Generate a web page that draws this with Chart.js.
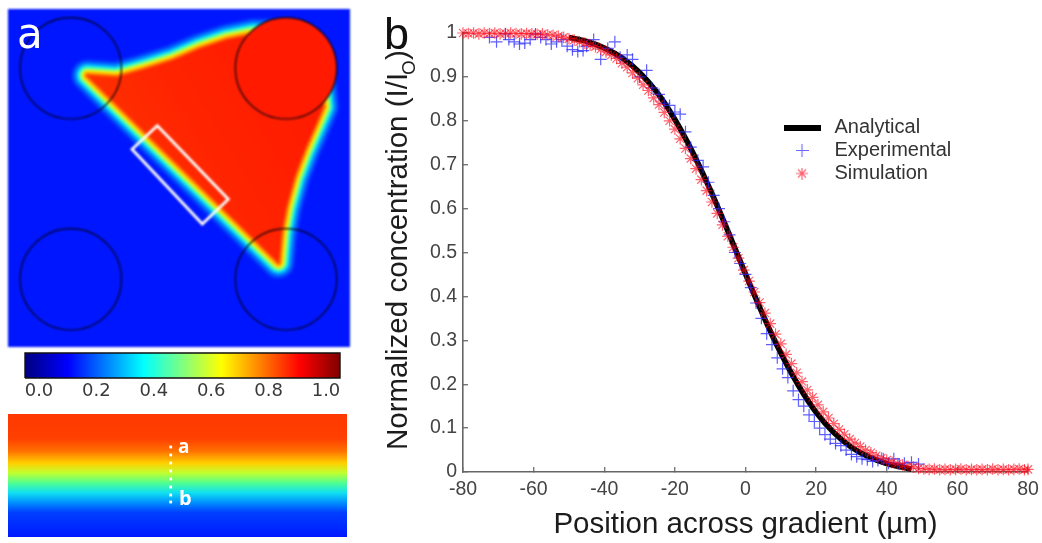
<!DOCTYPE html>
<html><head><meta charset="utf-8">
<script src="https://cdn.jsdelivr.net/npm/chart.js@4"></script>
<style>
html,body{margin:0;padding:0;background:#fff;overflow:hidden}
#page{position:relative;width:1042px;height:543px;filter:blur(.7px)}
canvas{position:absolute;display:block}
#mapChart{filter:blur(.8px)}
.t{position:absolute;white-space:nowrap;line-height:1}
</style></head><body>
<div id="page">
<canvas id="mapChart" width="342" height="338" style="left:8px;top:9px"></canvas>
<canvas id="barChart" width="360" height="62" style="left:0;top:345px"></canvas>
<canvas id="stripChart" width="339" height="123" style="left:8px;top:414px"></canvas>
<canvas id="curveChart" width="672" height="543" style="left:370px;top:0"></canvas>
<div class="t" style="left:17px;top:9px;font:42px 'DejaVu Sans';color:#fff">a</div>
<div class="t" style="left:384px;top:8px;font:45px 'Liberation Sans';color:#111">b</div>
<div class="t" style="left:178px;top:433px;font:bold 19px 'Open Sans';color:#fff">a</div>
<div class="t" style="left:179px;top:484px;font:bold 20px 'Open Sans';color:#fff">b</div>
<div class="t" id="ytitle" style="left:380px;top:450px;transform-origin:0 0;transform:rotate(-90deg);font:29.5px 'Liberation Sans';color:#1c1c1c">Normalized concentration (I/I<span style="font-size:19px;position:relative;top:8px;margin-left:-2px">O</span>)</div>
</div>
<script>
// ---------- panel b data ----------
const analyticalX = [-50,-45,-40,-35,-30,-25,-20,-15,-10,-5,0,5,10,15,20,25,30,35,40,45,47];
const analyticalY = [.990,.981,.966,.9435,.910,.864,.803,.729,.643,.549,.451,.357,.271,.197,.136,.090,.0565,.034,.019,.010,.006];
const experimentalX = [-72.5,-70.5,-68,-67,-65.5,-64,-62.5,-61,-59.5,-58,-56.5,-55,-53.5,-52,-50.5,-49,-47.5,-46,-45,-43,-41,-39,-37,-35.5,-33.5,-32,-30,-28,-26.5,-24.5,-23,-21.5,-20,-18.5,-17,-15.5,-13.5,-12,-10.5,-9,-7.5,-6,-4.5,-3,-1.5,0,1.5,3,4.5,6,7.5,9,10.5,12,13.5,15,16.5,18,19.5,21,22.5,24,25.5,27,28.5,30,31.5,33,34.5,36,37.5,39,40.5,42,43.5,45,47,49];
const experimentalY = [.99,.98,.998,.985,.98,.975,.977,.985,.998,.99,.985,.975,.98,.985,.97,.962,.958,.96,.97,.985,.94,.965,.98,.945,.95,.94,.9,.915,.875,.86,.84,.835,.82,.815,.775,.74,.71,.695,.66,.63,.6,.57,.54,.5,.475,.45,.42,.385,.35,.315,.29,.26,.235,.215,.185,.165,.15,.13,.115,.1,.085,.075,.065,.06,.05,.04,.035,.03,.028,.024,.026,.03,.02,.03,.018,.02,.022,.018];
const simulationX = [-80,-78.5,-77,-75.5,-74,-72.5,-71,-69.5,-68,-66.5,-65,-63.5,-62,-60.5,-59,-57.5,-56,-54.5,-53,-51.5,-50,-48.5,-47,-45.5,-44,-42.5,-41,-39.5,-38,-36.5,-35,-33.5,-32,-30.5,-29,-27.5,-26,-24.5,-23,-21.5,-20,-18.5,-17,-15.5,-14,-12.5,-11,-9.5,-8,-6.5,-5,-3.5,-2,-.5,1,2.5,4,5.5,7,8.5,10,11.5,13,14.5,16,17.5,19,20.5,22,23.5,25,26.5,28,29.5,31,32.5,34,35.5,37,38.5,40,41.5,43,44.5,46,47.5,49,50.5,52,53.5,55,56.5,58,59.5,61,62.5,64,65.5,67,68.5,70,71.5,73,74.5,76,77.5,79,80];
const simulationY = [1,.999,1,.998,1,.999,1,.998,.999,1,.999,.998,.999,.998,.997,.998,.996,.995,.993,.99,.987,.984,.98,.977,.972,.969,.963,.957,.95,.942,.931,.922,.909,.897,.882,.869,.852,.837,.819,.8,.781,.759,.737,.714,.691,.666,.641,.615,.589,.563,.537,.512,.487,.46,.435,.41,.386,.362,.338,.314,.292,.268,.247,.226,.206,.187,.17,.153,.137,.123,.11,.097,.086,.075,.066,.058,.05,.044,.037,.032,.027,.022,.019,.016,.013,.011,.008,.007,.006,.007,.005,.006,.005,.006,.007,.005,.006,.005,.006,.005,.007,.005,.006,.005,.006,.007,.005,.006];
const seriesNames = ['Analytical','Experimental','Simulation'];
const xTitle = 'Position across gradient (\u00b5m)';

// ---------- panel a data (map region outlines, in map units) ----------
const regionX = [79.5,108.7,135.3,165.3,192,218.7,245.3,278,311,315,308,296.4,286.3,278.1,273.2,270.5,79.5];
const regionY = [66.5,68.4,60.9,51.4,39.9,30.9,25.4,26,57.7,97.7,114.3,141,167.7,197.7,224.3,253.5,66.5];
const edgeWidths = [34,30.6,27.2,23.8,20.4,17,13.6,10.2,6.8,3.4];
const edgeColors = ['#0028ff','#0048ff','#0070ff','#00a0ff','#10e0f0','#50ffb0','#b0ff50','#ffe000','#ffa000','#ff5a00'];
const wellX = [62.7,278,62.7,278];
const wellY = [59.3,59.3,270.3,270.3];
const boxX = [149.3,220.3,194.3,124,149.3];
const boxY = [116.7,190.3,215,140.3,116.7];

// ---------- colour bar data ----------
const barTicks = [0,.2,.4,.6,.8,1];
const barStopPos = [0,.137,.376,.5,.624,.873,1];
const barStopCol = ['#000080','#0000ff','#00ffff','#80ff80','#ffff00','#ff0000','#800000'];

// ---------- strip data ----------
const stripStopPos = [0,.2,.3,.4,.48,.56,.64,.72,.8,1];
const stripStopCol = ['#ff3800','#ff4000','#ff7000','#ffd000','#c0ff30','#50ff90','#10e0f0','#0090ff','#0040ff','#0018ff'];
const dotX = [162.7,162.7,162.7,162.7,162.7,162.7,162.7,162.7];
const dotY = [33,41,49,57,65,73,81,88];

const zip = (xs, ys) => xs.map((x, i) => ({x, y: ys[i]}));
Chart.defaults.animation = false;
Chart.defaults.responsive = false;
Chart.defaults.devicePixelRatio = 1;
Chart.defaults.plugins.tooltip.enabled = false;
Chart.defaults.events = [];
Chart.defaults.layout.autoPadding = false;
const hidden = (min, max, reverse) => ({type:'linear', display:false, min, max, reverse: !!reverse});
const noLegend = {legend:{display:false}};

// ---------- map ----------
const regionFill = c => {
  const a = c.chart.chartArea; if (!a) return '#ff2a00';
  const g = c.chart.ctx.createLinearGradient(60, 200, 300, 60);
  g.addColorStop(0, '#ff3c00'); g.addColorStop(.55, '#ff2400'); g.addColorStop(1, '#ff1a00');
  return g;
};
const mapSets = [
  {data: zip(boxX, boxY), showLine:true, borderColor:'#fff', borderWidth:2.8, pointRadius:0, borderJoinStyle:'miter', borderCapStyle:'square', clip:false},
  {data: zip(wellX, wellY), showLine:false, pointRadius:50.7, pointBorderWidth:1.2, pointBorderColor:'#000010',
   pointBackgroundColor:['rgba(0,0,0,0)','#ff1a00','rgba(0,0,0,0)','rgba(0,0,0,0)']},
  {data: zip(regionX, regionY), showLine:true, fill:'shape', backgroundColor:regionFill, borderWidth:0, borderColor:'rgba(0,0,0,0)', pointRadius:0}
];
edgeWidths.slice().reverse().forEach((w, i) => {
  const c = edgeColors.slice().reverse()[i];
  mapSets.push({data: zip(regionX, regionY), showLine:true, fill:'shape', backgroundColor:c, borderColor:c, borderWidth:w, borderJoinStyle:'round', borderCapStyle:'round', pointRadius:0});
});
new Chart('mapChart', {type:'scatter', data:{datasets:mapSets}, options:{
  layout:{padding:0}, plugins:noLegend,
  scales:{x:hidden(0,342), y:hidden(0,338,true)}
}, plugins:[{id:'bg', beforeDraw(c){c.ctx.save();c.ctx.fillStyle='#0016ff';c.ctx.fillRect(0,0,c.width,c.height);c.ctx.restore();}}]});

// ---------- colour bar ----------
const barMin = -0.1, barMax = 1.056;
const barFill = c => {
  const a = c.chart.chartArea; if (!a) return '#00f';
  const g = c.chart.ctx.createLinearGradient(a.left, 0, a.right, 0);
  barStopPos.forEach((p, i) => g.addColorStop(p, barStopCol[i]));
  return g;
};
const barGrid = {display:true, drawOnChartArea:false, drawTicks:true, tickLength:-3, color:'#111', lineWidth:1};
new Chart('barChart', {type:'scatter', data:{datasets:[
  {data: zip([barMin,barMax,barMax,barMin,barMin],[0,0,1,1,0]), showLine:true, fill:'shape', backgroundColor:barFill, borderColor:'#111', borderWidth:1.4, pointRadius:0, clip:false}
]}, options:{
  layout:{padding:{left:25,right:20,top:8,bottom:0}}, plugins:noLegend,
  scales:{
    y:{type:'linear', display:false, min:0, max:1},
    x:{type:'linear', position:'bottom', min:barMin, max:barMax, grid:barGrid, border:{display:false},
       afterBuildTicks(s){s.ticks=barTicks.map(value=>({value}));}, ticks:{display:false}, afterFit(s){s.height=0;}},
    xt:{type:'linear', position:'top', min:barMin, max:barMax, grid:barGrid, border:{display:false},
       afterBuildTicks(s){s.ticks=barTicks.map(value=>({value}));}, ticks:{display:false}, afterFit(s){s.height=0;}},
    xl:{type:'linear', position:'bottom', min:-14/287, max:301/287, grid:{display:false, drawTicks:false}, border:{display:false},
       afterBuildTicks(s){s.ticks=barTicks.map(value=>({value}));},
       ticks:{autoSkip:false, maxRotation:0, padding:3, color:'#3a3a3a', font:{family:'DejaVu Sans', size:18}, callback:v=>(+v).toFixed(1)},
       afterFit(s){s.height=29;}}
  }
}});

// ---------- gradient strip ----------
const stripFill = c => {
  const a = c.chart.chartArea; if (!a) return '#f00';
  const g = c.chart.ctx.createLinearGradient(0, a.top, 0, a.bottom);
  stripStopPos.forEach((p, i) => g.addColorStop(p, stripStopCol[i]));
  return g;
};
new Chart('stripChart', {type:'scatter', data:{datasets:[
  {data: zip(dotX, dotY), showLine:false, pointStyle:'rect', pointRadius:2, pointBorderWidth:0, pointBackgroundColor:'#fff'},
  {data: zip([0,339,339,0,0],[0,0,123,123,0]), showLine:true, fill:'shape', backgroundColor:stripFill, borderWidth:0, borderColor:'rgba(0,0,0,0)', pointRadius:0}
]}, options:{layout:{padding:0}, plugins:noLegend, scales:{x:hidden(0,339), y:hidden(0,123,true)}}});

// ---------- curve ----------
const stamp = (w, h, draw) => { const c = document.createElement('canvas'); c.width = w; c.height = h; draw(c.getContext('2d')); return c; };
const legendMarks = [
  stamp(37,6,g=>{g.fillStyle='#000';g.fillRect(0,0,37,6);}),
  stamp(13,13,g=>{g.strokeStyle='rgba(70,70,255,.8)';g.lineWidth=1.1;g.beginPath();g.moveTo(0,6.5);g.lineTo(13,6.5);g.moveTo(6.5,0);g.lineTo(6.5,13);g.stroke();}),
  stamp(12,12,g=>{g.strokeStyle='rgba(255,40,60,.75)';g.lineWidth=1.1;g.beginPath();g.moveTo(0,6);g.lineTo(12,6);g.moveTo(6,0);g.lineTo(6,12);g.moveTo(2,2);g.lineTo(10,10);g.moveTo(10,2);g.lineTo(2,10);g.stroke();})
];
const axisGrid = {display:true, drawOnChartArea:false, drawTicks:true, tickLength:-5, color:'#777', lineWidth:1.4};
const tickFont = {family:'Liberation Sans', size:19.5};
new Chart('curveChart', {type:'scatter', data:{datasets:[
  {label:seriesNames[0], data:zip(analyticalX, analyticalY), showLine:true, borderColor:'#000', borderWidth:5.5, pointRadius:0, tension:.4, cubicInterpolationMode:'monotone', order:3, clip:false},
  {label:seriesNames[1], data:zip(experimentalX, experimentalY), showLine:false, pointStyle:'cross', pointRadius:6, pointBorderWidth:1.2, pointBorderColor:'rgba(40,40,255,.75)', order:2, clip:false},
  {label:seriesNames[2], data:zip(simulationX, simulationY), showLine:false, pointStyle:'star', pointRadius:5.8, pointBorderWidth:1.2, pointBorderColor:'rgba(255,0,20,.62)', order:1, clip:false}
]}, options:{
  layout:{padding:{top:33,right:14,left:0,bottom:0}},
  plugins:{legend:{display:true, position:'chartArea', align:'start', labels:{
    usePointStyle:true, pointStyleWidth:45, padding:3, color:'#333',
    font:{family:'Liberation Sans', size:20, lineHeight:1.15},
    generateLabels(ch){
      return Chart.defaults.plugins.legend.labels.generateLabels(ch)
        .sort((a,b)=>a.datasetIndex-b.datasetIndex)
        .map((it,i)=>Object.assign(it,{pointStyle:legendMarks[i], fontColor:'#333'}));
    }
  }}},
  scales:{
    x:{type:'linear', min:-80, max:80, grid:axisGrid, border:{display:true,color:'#666',width:1.6},
       ticks:{stepSize:20, autoSkip:false, maxRotation:0, padding:11, color:'#444', font:tickFont},
       title:{display:true, text:xTitle, color:'#1c1c1c', font:{family:'Liberation Sans', size:29.5}, padding:{top:0,bottom:0}},
       afterFit(s){s.height=71; s.paddingLeft=0; s.paddingRight=0;}},
    y:{type:'linear', min:0, max:1, grid:axisGrid, border:{display:true,color:'#666',width:1.6},
       ticks:{stepSize:.1, autoSkip:false, padding:11, color:'#444', font:tickFont, callback:v=>String(+(+v).toFixed(1))},
       afterFit(s){s.width=93; s.paddingTop=0; s.paddingBottom=0;}}
  }
}, plugins:[{id:'placeLegend', afterLayout(c){ const l=c.legend; if(l){ l.left=406.5; l.top=114.5; } }}]});
</script>
</body></html>
